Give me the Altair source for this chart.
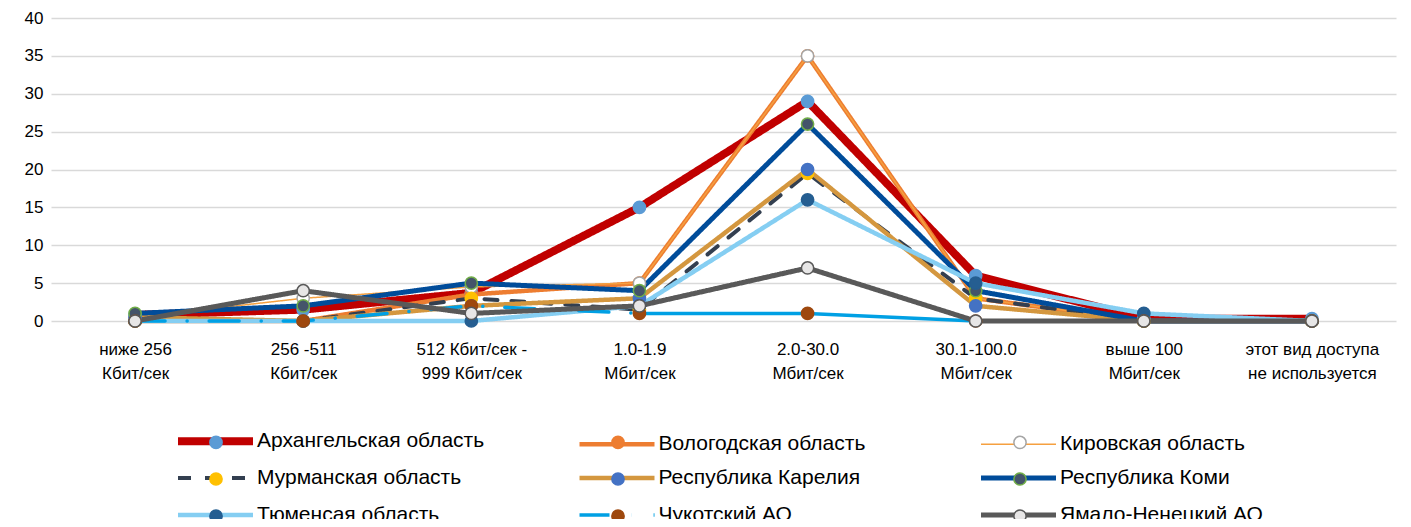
import altair as alt
import pandas as pd

categories = ["ниже 256\nКбит/сек", "256 -511\nКбит/сек", "512 Кбит/сек -\n999 Кбит/сек",
              "1.0-1.9\nМбит/сек", "2.0-30.0\nМбит/сек", "30.1-100.0\nМбит/сек",
              "выше 100\nМбит/сек", "этот вид доступа\nне используется"]
series = ["Архангельская область", "Вологодская область", "Кировская область",
          "Мурманская область", "Республика Карелия", "Республика Коми",
          "Тюменсая область", "Чукотский АО", "Ямало-Ненецкий АО"]

arkhangelsk = [0.8, 1.5, 3.7, 15, 29, 6, 0.3, 0.3]
vologda = [0, 0, 3.5, 5, 35, 3, 0, 0]
kirov = [0.5, 3, 4.5, 5, 35, 3, 0, 0]
murmansk = [0, 0, 3, 1.5, 19.5, 3, 0, 0]
karelia = [0.5, 0, 2, 3, 20, 2, 0, 0]
komi = [1, 2, 5, 4, 26, 4, 0, 0]
tyumen = [0, 0, 0, 2, 16, 5, 1, 0]
chukotka = [0, 0, 2, 1, 1, 0, 0, 0]
yamal = [0, 4, 1, 2, 7, 0, 0, 0]
values = [arkhangelsk, vologda, kirov, murmansk, karelia, komi, tyumen, chukotka, yamal]

y_ticks = [0, 5, 10, 15, 20, 25, 30, 35, 40]

line_colors = ["#C00000", "#ED7D31", "#F5A040", "#333F50", "#D4973F",
               "#004C9A", "#85CEF2", "#00A0E4", "#595959"]
line_widths = [8, 4.5, 1.5, 4, 4.5, 5, 4.5, 3.5, 5]
dash_patterns = [[1, 0], [1, 0], [1, 0], [13, 14], [1, 0], [1, 0], [1, 0],
                 [30, 22, 0.1, 22], [1, 0]]
marker_fills = ["#5B9BD5", "#ED7D31", "#FFFFFF", "#FFC000", "#4472C4",
                "#44546A", "#255E91", "#9E480E", "#E7E6E6"]
marker_strokes = ["#5B9BD5", "#ED7D31", "#A5A5A5", "#FFC000", "#4472C4",
                  "#70AD47", "#255E91", "#9E480E", "#595959"]

FONT = "Liberation Sans"

rows = []
for s, vals in zip(series, values):
    for i, (c, v) in enumerate(zip(categories, vals)):
        rows.append({"region": s, "cat": c, "idx": i, "value": v})
df = pd.DataFrame(rows)

x_enc = alt.X("cat:N", sort=categories,
              scale=alt.Scale(type="point", padding=0.5),
              axis=alt.Axis(title=None, domain=False, ticks=False, grid=False,
                            labelAngle=0, labelFont=FONT, labelFontSize=17,
                            labelColor="#000000", labelPadding=20,
                            labelLineHeight=24, labelOverlap=False,
                            labelExpr="split(datum.label, '\\n')"))
y_enc = alt.Y("value:Q", scale=alt.Scale(domain=[0, 40]),
              axis=alt.Axis(title=None, values=y_ticks, domain=False, ticks=False,
                            labelFont=FONT, labelFontSize=17, labelColor="#000000",
                            labelPadding=8, gridColor="#D9D9D9", gridWidth=1.5))

names_js = "[" + ",".join("'" + s + "'" for s in series) + "]"
widths_js = "[" + ",".join(str(w) for w in line_widths) + "]"
width_expr = ("(indexof(" + names_js + ", datum.value) < 0) ? 0 : "
              + widths_js + "[indexof(" + names_js + ", datum.value)]")

legend_lines = alt.Legend(title=None, orient="none", legendX=127, legendY=412.5,
                          direction="horizontal", columns=3,
                          symbolType="stroke", symbolSize=5625, symbolOffset=27,
                          rowPadding=9, columnPadding=84.5,
                          gridAlign="all", padding=0, labelOffset=31,
                          labelFont=FONT, labelFontSize=21, labelColor="#000000",
                          labelLimit=500,
                          symbolStrokeWidth=alt.ExprRef(expr=width_expr))
legend_marks = alt.Legend(title=None, orient="none", legendX=158, legendY=417,
                          direction="horizontal", columns=3,
                          symbolType="circle", symbolSize=150,
                          symbolStrokeWidth=1.5, rowPadding=17,
                          columnPadding=382, gridAlign="all", padding=0,
                          labelOffset=0, labelExpr="''")

color_enc = alt.Color("region:N", scale=alt.Scale(domain=series, range=line_colors),
                      legend=legend_lines)
dash_enc = alt.StrokeDash("region:N", scale=alt.Scale(domain=series, range=dash_patterns),
                          legend=legend_lines)

base = alt.Chart(df)
layers = []
for s, w in zip(series, line_widths):
    if s == "Чукотский АО":
        layers.append(base.transform_filter(
            f"datum.region == '{s}' && datum.idx <= 3").mark_line(strokeCap="round").encode(
            x=x_enc, y=y_enc, color=color_enc, strokeDash=dash_enc,
            strokeWidth=alt.value(w)))
        layers.append(base.transform_filter(
            f"datum.region == '{s}' && datum.idx >= 3").mark_line(strokeCap="round").encode(
            x=x_enc, y=y_enc, color=color_enc, strokeWidth=alt.value(w)))
    else:
        layers.append(base.transform_filter(f"datum.region == '{s}'").mark_line(
            strokeCap="round").encode(
            x=x_enc, y=y_enc, color=color_enc, strokeDash=dash_enc,
            strokeWidth=alt.value(w)))

points = base.mark_point(filled=True, size=150, strokeWidth=1.5, opacity=1).encode(
    x=x_enc, y=y_enc,
    fill=alt.Fill("region:N", scale=alt.Scale(domain=series + [" "],
                                              range=marker_fills + ["transparent"]),
                  legend=legend_marks),
    stroke=alt.Stroke("region:N", scale=alt.Scale(domain=series + [" "],
                                                  range=marker_strokes + ["transparent"]),
                      legend=legend_marks),
)
layers.append(points)

chart = alt.layer(*layers).properties(
    width=1345, height=303,
    padding={"left": 43, "top": 10, "right": 5, "bottom": 198},
    autosize="none",
).configure_view(stroke=None)

chart.save("out.html", embed_options={"renderer": "svg", "actions": False})
